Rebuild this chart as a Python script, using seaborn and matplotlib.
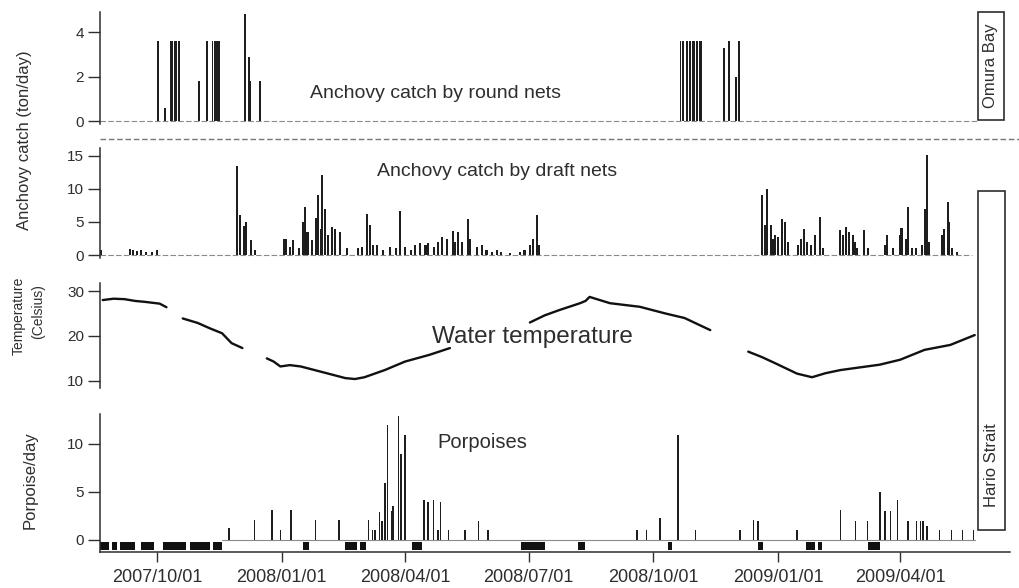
import pandas as pd
import matplotlib
matplotlib.use("Agg")
import matplotlib.pyplot as plt
from matplotlib.patches import Rectangle
from matplotlib.lines import Line2D
import seaborn as sns

# day 0 of the record = 2007/08/20
START = pd.Timestamp("2007-08-20")
LAST_DAY = 671

TICK_DATES = ["2007/10/01", "2008/01/01", "2008/04/01", "2008/07/01",
              "2008/10/01", "2009/01/01", "2009/04/01"]

# Omura Bay - anchovy catch by round nets (ton/day)
round_day = [43, 48, 52, 53, 55, 56, 58, 73, 79, 83, 85, 86, 88, 107, 110, 111, 118,
             428, 430, 433, 435, 437, 438, 440, 442, 443, 460, 464, 469, 471]
round_catch = [3.6, 0.6, 3.6, 3.6, 3.6, 3.6, 3.6, 1.8, 3.6, 3.6, 3.6, 3.6, 3.6, 4.8, 2.9, 1.8, 1.8,
               3.6, 3.6, 3.6, 3.6, 3.6, 3.6, 3.6, 3.6, 3.6, 3.3, 3.6, 2.0, 3.6]

# Hario Strait - anchovy catch by draft nets (ton/day)
draft_day = [1, 22, 24, 27, 30, 34, 38, 42, 101, 103, 106, 108, 111, 114,
             136, 137, 140, 142, 147, 150, 151, 153, 156, 159, 161, 163, 164, 166, 168,
             171, 173, 177, 182, 190, 193, 197, 199, 201, 204, 209, 214, 218, 221, 225,
             229, 232, 236, 240, 242, 246, 249, 252, 256, 260, 262, 264, 267, 271, 273,
             278, 282, 285, 289, 293, 296, 302, 310, 313, 317, 319, 322, 324,
             488, 490, 492, 495, 496, 498, 500, 503, 505, 507, 515, 517, 519, 521, 524,
             527, 531, 533, 546, 548, 550, 552, 555, 557, 558, 563, 566, 579, 580, 585,
             590, 591, 594, 596, 599, 602, 606, 608, 610, 611, 621, 622, 625, 626, 628, 632]
draft_catch = [0.8, 0.9, 0.8, 0.6, 0.7, 0.5, 0.5, 0.8, 13.4, 6.0, 4.4, 5.0, 2.3, 0.8,
               2.4, 2.4, 1.2, 2.3, 1.0, 5.0, 7.2, 3.5, 2.3, 5.6, 9.1, 4.0, 12.1, 7.0, 3.0,
               4.3, 4.0, 3.5, 1.0, 1.0, 1.2, 6.2, 4.5, 1.5, 1.5, 0.8, 1.2, 1.0, 6.7, 1.2,
               0.8, 1.5, 1.8, 1.5, 1.8, 1.2, 2.0, 2.8, 2.5, 3.6, 2.0, 3.5, 2.0, 5.4, 2.5,
               1.2, 1.5, 0.8, 0.5, 0.8, 0.5, 0.3, 0.5, 0.8, 1.5, 2.5, 6.0, 1.5,
               9.1, 4.5, 10.0, 4.5, 2.5, 3.0, 2.8, 5.4, 5.0, 2.0, 1.5, 2.5, 4.0, 2.0, 1.5,
               3.0, 5.7, 1.0, 3.8, 3.0, 4.3, 3.5, 3.0, 2.0, 1.0, 3.8, 1.0, 1.5, 3.0, 1.0,
               3.0, 4.1, 2.5, 7.2, 1.0, 1.0, 1.5, 7.0, 15.2, 2.0, 3.0, 4.0, 8.0, 5.0, 1.0, 0.5]

# water temperature (Celsius), recorded in separate runs
temp_run = [1] * 7 + [2] * 6 + [3] * 13 + [4] * 11 + [5] * 12
temp_day = [2, 10, 18, 26, 33, 44, 49,
            61, 72, 81, 90, 97, 105,
            123, 128, 133, 140, 148, 162, 181, 188, 195, 210, 225, 243, 258,
            317, 328, 339, 354, 358, 361, 376, 398, 417, 431, 450,
            478, 488, 498, 514, 525, 535, 546, 575, 590, 608, 627, 645]
temp_c = [28.0, 28.3, 28.2, 27.8, 27.6, 27.2, 26.4,
          23.9, 22.9, 21.7, 20.6, 18.4, 17.3,
          15.0, 14.3, 13.2, 13.5, 13.2, 12.1, 10.6, 10.4, 10.8, 12.4, 14.3, 15.8, 17.3,
          23.0, 24.6, 25.8, 27.3, 27.8, 28.7, 27.3, 26.5, 25.0, 24.0, 21.3,
          16.5, 15.3, 13.9, 11.6, 10.8, 11.7, 12.4, 13.6, 14.7, 16.9, 18.0, 20.2]

# porpoises detected per day
porp_day = [95, 114, 127, 133, 141, 159, 176, 198, 201, 203, 206, 208, 210, 212, 215,
            216, 220, 222, 225, 239, 242, 246, 249, 251, 257, 269, 279, 286,
            396, 403, 413, 426, 439, 472, 482, 485, 514, 546, 557, 566, 575, 579,
            583, 588, 596, 602, 605, 607, 610, 619, 628, 636, 644]
porp_count = [1.2, 2.1, 3.1, 1.0, 3.1, 2.1, 2.1, 2.1, 1.0, 1.0, 2.9, 2.0, 5.9, 12.0, 3.0,
              3.5, 12.9, 8.9, 10.9, 4.2, 4.0, 4.2, 1.0, 4.0, 1.0, 1.0, 2.0, 1.0,
              1.0, 1.0, 2.3, 10.9, 1.0, 1.0, 2.1, 2.0, 1.0, 3.1, 2.0, 2.0, 5.0, 3.0,
              3.0, 4.2, 2.0, 2.0, 2.0, 2.0, 1.5, 1.0, 1.0, 1.0, 1.0]

# periods without acoustic monitoring (black blocks under porpoise axis)
gap_start = [0, 8.8, 14.7, 30.2, 46.5, 66.4, 83.3, 149.7, 180.7, 191.7, 230,
             310.5, 352.5, 418.9, 485.3, 520.6, 529.5, 566.4]
gap_end = [6.6, 12.5, 25.8, 39.8, 63.4, 81.1, 90, 154.1, 189.5, 196.2, 237.5,
           328.2, 357.7, 421.8, 489, 527.3, 532.4, 575.2]

sns.set_style("ticks")
plt.rcParams["font.family"] = ["Liberation Sans", "DejaVu Sans"]
INK = "#2e2e2e"
BAR = "#1e1e1e"

fig = plt.figure(figsize=(10.19, 5.88), dpi=100)
W, H = 1019, 588


def px_axes(top, bottom):
    return fig.add_axes([100 / W, 1 - bottom / H, 910 / W, (bottom - top) / H])


ax1 = px_axes(12, 124)
ax2 = px_axes(148, 258)
ax3 = px_axes(283, 388)
ax4 = px_axes(414, 552)

for ax in (ax1, ax2, ax3, ax4):
    ax.set_facecolor("none")
    ax.set_xlim(0, LAST_DAY)
    sns.despine(ax=ax, top=True, right=True, bottom=(ax is not ax4))
    ax.spines["left"].set_color(INK)
    ax.spines["left"].set_linewidth(1.1)
    ax.tick_params(axis="y", length=8.5, width=1.0, pad=3, labelsize=11,
                   color=INK, labelcolor=INK)
    if ax is not ax4:
        ax.set_xticks([])

# round nets
ax1.plot([0, 647], [0, 0], color="#8a8a8a", lw=0.8, ls=(0, (5, 2)))
ax1.bar(round_day, round_catch, width=1.3, color=BAR, linewidth=0)
ax1.set_ylim(-0.13, 4.9)
ax1.set_yticks([0, 2, 4])

# draft nets
ax2.plot([0, 643], [0, 0], color="#8a8a8a", lw=0.8, ls=(0, (5, 2)))
ax2.bar(draft_day, draft_catch, width=1.5, color=BAR, linewidth=0)
ax2.set_ylim(-0.45, 16.2)
ax2.set_yticks([0, 5, 10, 15])

# temperature
temp_df = pd.DataFrame({"day": temp_day, "temp": temp_c, "run": temp_run})
sns.lineplot(data=temp_df, x="day", y="temp", units="run", estimator=None,
             color="#111111", lw=1.7, ax=ax3, legend=False)
ax3.set_ylim(8.4, 31.8)
ax3.set_yticks([10, 20, 30])
ax3.set_xlabel("")
ax3.set_ylabel("")

# porpoises
ax4.plot([90, 645], [0, 0], color="#8a8a8a", lw=0.8)
ax4.bar(porp_day, porp_count, width=1.2, color=BAR, linewidth=0)
gap_width = [e - s for s, e in zip(gap_start, gap_end)]
ax4.bar(gap_start, [0.85] * len(gap_start), bottom=-1.05, width=gap_width,
        align="edge", color="#111111", linewidth=0)
ax4.set_ylim(-1.25, 13.1)
ax4.set_yticks([0, 5, 10])
tick_pos = [(pd.Timestamp(d.replace("/", "-")) - START).days for d in TICK_DATES]
ax4.set_xticks(tick_pos)
ax4.set_xticklabels(TICK_DATES)
ax4.spines["bottom"].set_color(INK)
ax4.spines["bottom"].set_linewidth(1.1)
ax4.tick_params(axis="x", length=7, width=1.0, pad=5, labelsize=13,
                color=INK, labelcolor=INK)

# panel titles
fig.text(436 / W, 1 - 93 / H, "Anchovy catch by round nets", ha="center", va="center",
         fontsize=14, color=INK)
fig.text(497 / W, 1 - 172 / H, "Anchovy catch by draft nets", ha="center", va="center",
         fontsize=14, color=INK)
fig.text(532 / W, 1 - 337 / H, "Water temperature", ha="center", va="center",
         fontsize=17.5, color=INK)
fig.text(482 / W, 1 - 443 / H, "Porpoises", ha="center", va="center",
         fontsize=14.5, color=INK)

# y labels
fig.text(25 / W, 1 - 140 / H, "Anchovy catch (ton/day)", rotation=90, ha="center",
         va="center", fontsize=12, color=INK)
fig.text(19 / W, 1 - 316 / H, "Temperature", rotation=90, ha="center", va="center",
         fontsize=10, color=INK)
fig.text(38 / W, 1 - 312 / H, "(Celsius)", rotation=90, ha="center", va="center",
         fontsize=10, color=INK)
fig.text(30 / W, 1 - 480 / H, "Porpoise/day", rotation=90, ha="center", va="center",
         fontsize=12, color=INK)

# separator between the two sites
fig.add_artist(Line2D([100 / W, 1.0], [1 - 139 / H] * 2, transform=fig.transFigure,
                      color="#777777", lw=1.0, ls=(0, (4, 2))))

# site boxes on the right
for x0, y0, x1, y1, ty, label in [(978, 12, 1004, 120, 66, "Omura Bay"),
                                  (978, 191, 1005, 530, 465, "Hario Strait")]:
    fig.add_artist(Rectangle((x0 / W, 1 - y1 / H), (x1 - x0) / W, (y1 - y0) / H,
                             transform=fig.transFigure, fill=False,
                             edgecolor=INK, lw=1.2))
    fig.text((x0 + x1) / 2 / W, 1 - ty / H, label, rotation=90, ha="center",
             va="center", fontsize=12, color=INK)

fig.savefig("out.png", dpi=100)
plt.close(fig)
